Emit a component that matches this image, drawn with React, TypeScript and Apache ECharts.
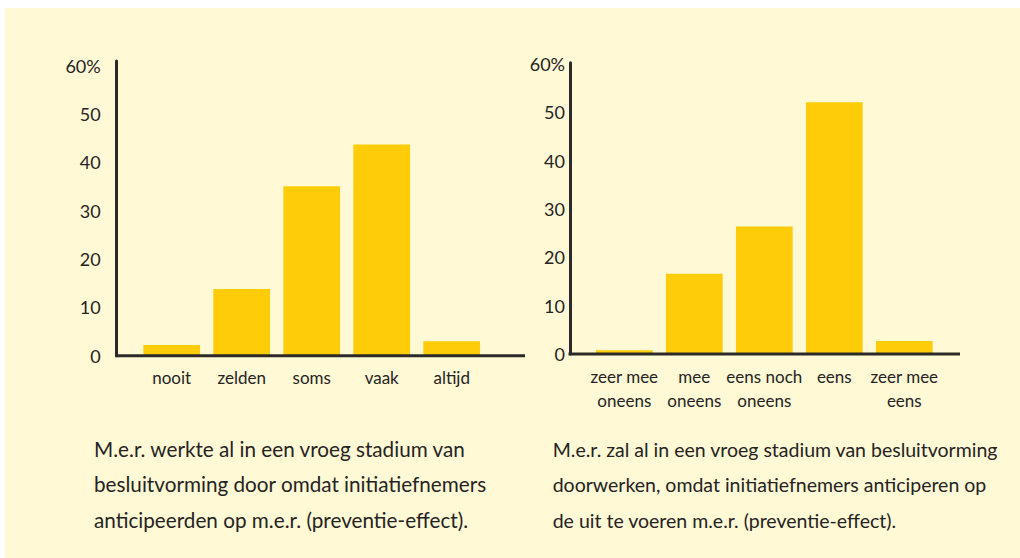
import React, { useEffect, useRef } from "react";
import * as echarts from "echarts";

const leftCategories = ["nooit", "zelden", "soms", "vaak", "altijd"];
const leftValues = [2.2, 13.8, 35.1, 43.7, 3.0];
const rightCategories = ["zeer mee\noneens", "mee\noneens", "eens noch\noneens", "eens", "zeer mee\neens"];
const rightValues = [0.8, 16.6, 26.4, 52.1, 2.7];
const yTickInterval = 10;
const leftCaption = [
  "M.e.r. werkte al in een vroeg stadium van",
  "besluitvorming door omdat initiatiefnemers",
  "anticipeerden op m.e.r. (preventie-effect).",
];
const rightCaption = [
  "M.e.r. zal al in een vroeg stadium van besluitvorming",
  "doorwerken, omdat initiatiefnemers anticiperen op",
  "de uit te voeren m.e.r. (preventie-effect).",
];

const FONT = "Lato";
const TEXT = "#262322";
const AXIS = "#2b2a28";
const BAR = "#FFCC0A";
const BG = "#FFF9D6";

export default function App() {
  const ref = useRef<HTMLDivElement>(null);
  useEffect(() => {
    if (!ref.current) return;
    const chart = echarts.init(ref.current, undefined, { renderer: "svg" });
    const fmt = (v: number) => (v % 10 !== 0 ? "" : v === 60 ? "60%" : String(v));
    const yAxisBase = {
      type: "value" as const,
      min: 0,
      interval: yTickInterval,
      splitLine: { show: false },
      axisTick: { show: false },
      axisLine: { show: true, lineStyle: { color: AXIS, width: 3 } },
      axisLabel: { formatter: fmt, color: TEXT, fontFamily: FONT, fontSize: 18 },
    };
    const xAxisBase = {
      type: "category" as const,
      axisLine: { show: false },
      axisTick: { show: false },
      axisLabel: {
        color: TEXT,
        fontFamily: FONT,
        fontSize: 17,
        lineHeight: 24,
        margin: 10,
        interval: 0,
      },
    };
    const captionText = (lines: string[], x: number, size: number) =>
      lines.map((t, i) => ({
        type: "text",
        x,
        y: 459 + i * 35.5,
        style: {
          text: t,
          fill: TEXT,
          font: `${size}px ${FONT}`,
          verticalAlign: "bottom",
        },
      }));
    chart.setOption({
      animation: false,
      grid: [
        { left: 136.7, width: 350, top: 61, height: 294.7 },
        { left: 589.3, width: 350, top: 62.7, height: 291.3 },
      ],
      xAxis: [
        { ...xAxisBase, gridIndex: 0, data: leftCategories },
        { ...xAxisBase, gridIndex: 1, data: rightCategories },
      ],
      yAxis: [
        { ...yAxisBase, gridIndex: 0, max: 61, offset: 20, axisLabel: { ...yAxisBase.axisLabel, margin: 16 } },
        { ...yAxisBase, gridIndex: 1, max: 60.3, offset: 19.3, axisLabel: { ...yAxisBase.axisLabel, margin: 5 } },
      ],
      series: [
        {
          type: "bar",
          xAxisIndex: 0,
          yAxisIndex: 0,
          data: leftValues,
          barCategoryGap: "19%",
          itemStyle: { color: BAR },
        },
        {
          type: "bar",
          xAxisIndex: 1,
          yAxisIndex: 1,
          data: rightValues,
          barCategoryGap: "19%",
          itemStyle: { color: BAR },
        },
      ],
      graphic: [
        {
          type: "rect",
          z: -10,
          silent: true,
          shape: { x: 5, y: 8, width: 1015, height: 550 },
          style: { fill: BG },
        },
        {
          type: "line",
          z: 100,
          shape: { x1: 115.2, y1: 355.7, x2: 525, y2: 355.7 },
          style: { stroke: AXIS, lineWidth: 3 },
        },
        {
          type: "line",
          z: 100,
          shape: { x1: 568.5, y1: 354, x2: 960, y2: 354 },
          style: { stroke: AXIS, lineWidth: 3 },
        },
        ...captionText(leftCaption, 94, 20.7),
        ...captionText(rightCaption, 552.7, 19.5),
      ],
    });
    return () => chart.dispose();
  }, []);
  return (
    <div
      ref={ref}
      style={{ position: "fixed", left: 0, top: 0, width: 1020, height: 558, background: "#ffffff" }}
    />
  );
}
